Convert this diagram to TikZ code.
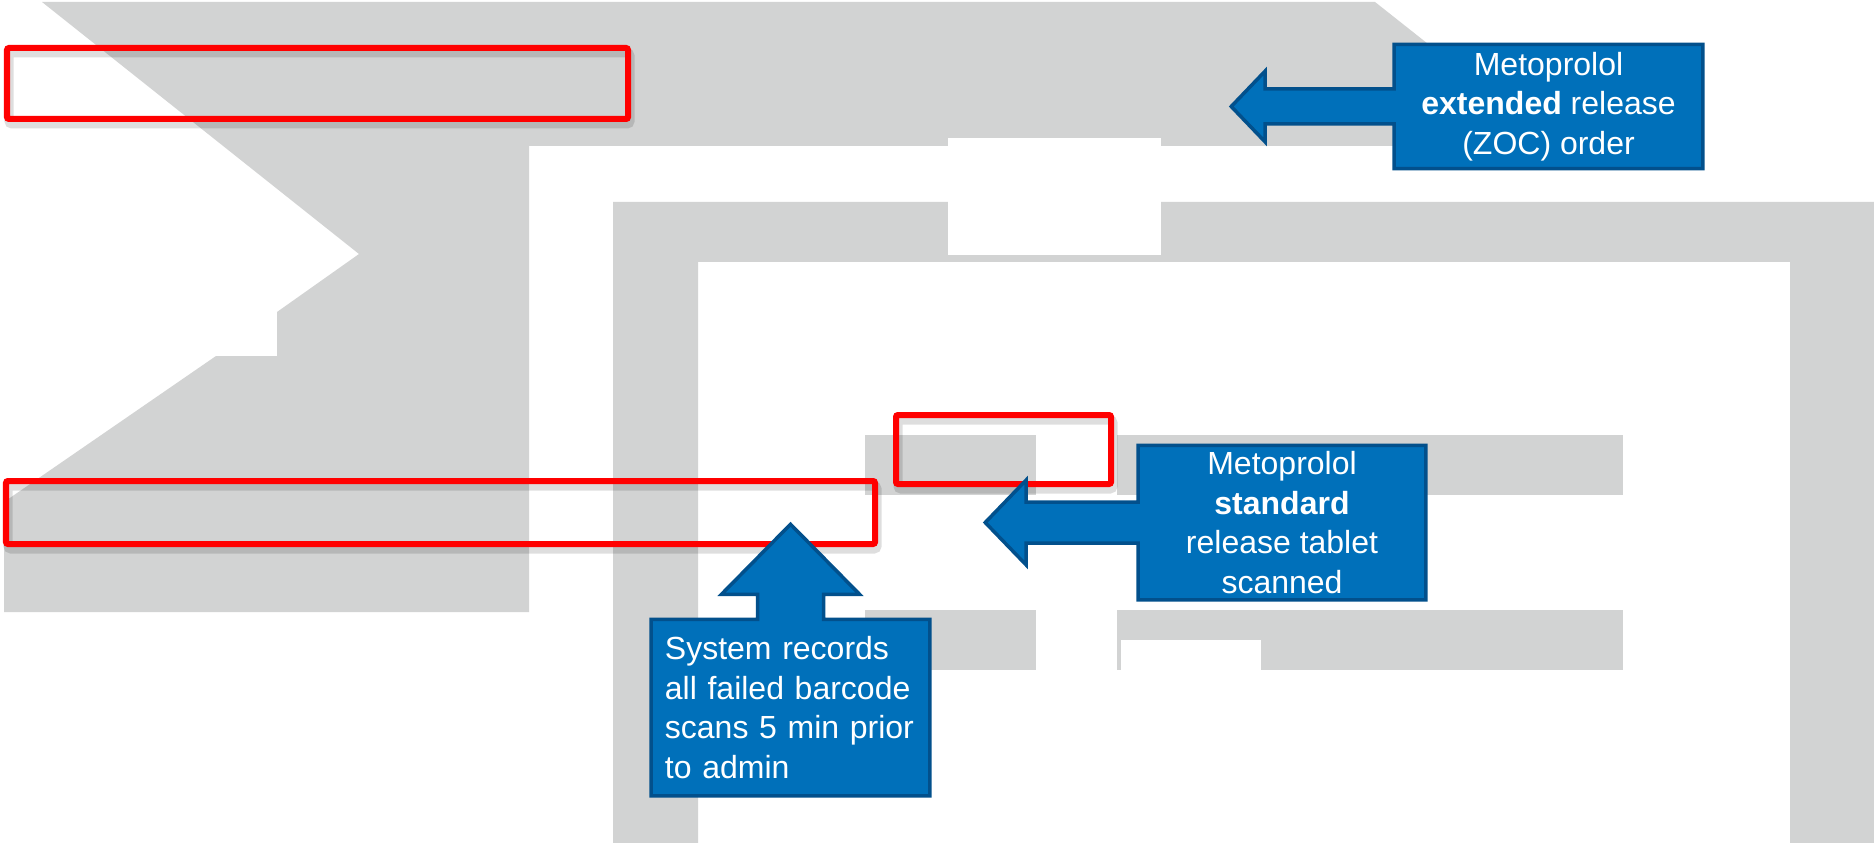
\documentclass[tikz,border=0pt]{standalone}
\usepackage{fontspec}
\setmainfont{Liberation Sans}
\usetikzlibrary{calc,backgrounds}
\definecolor{panelgray}{HTML}{D2D3D3}
\definecolor{callblue}{HTML}{0070BA}
\definecolor{callline}{HTML}{02508C}

\begin{document}
\begin{tikzpicture}[
            x=0.01cm, y=-0.01cm,
            panel/.style={fill=panelgray},
            redmark/.style={draw=red, line width=0.06cm, rounded corners=0.02cm},
            markshadow/.style={draw=black, opacity=0.13, line width=0.09cm, rounded corners=0.03cm},
            callbox/.style={inner sep=0pt, text=white, font=\fontsize{9.1pt}{11.2pt}\selectfont},
            callout/.style={fill=callblue, draw=callline, line width=0.035cm}
        ]
            \useasboundingbox (0,0) rectangle (1874,843);

            % call-out texts
            \node[callbox, minimum width=3.07cm, minimum height=1.23cm, align=center] (zoc) at (1548.5,106.5)
                {Metoprolol\\\textbf{extended} release\\(ZOC) order};
            \node[callbox, minimum width=2.86cm, minimum height=1.53cm, align=center] (std) at (1282,522.5)
                {Metoprolol\\\textbf{standard}\\release tablet\\scanned};
            \node[callbox, text width=2.51cm, inner xsep=0.13cm, minimum height=1.75cm, align=left] (sys) at (790.5,707.5)
                {System records\\all failed barcode\\scans 5 min prior\\to admin};

            \begin{scope}[on background layer]
                % grey screen panels
                \fill[panel] (42,2) -- (1375,2) -- (1557,146) -- (529,146) -- (529,612) -- (4,612) -- (4,502)
                    -- (216,356) -- (277,356) -- (277,312) -- (359,254) -- cycle;
                \fill[panel, even odd rule] (613,202) rectangle (1874,843) (698,262) rectangle (1790,843);
                \fill[white] (948,138) rectangle (1161,255);
                \fill[panel] (865,435) rectangle (1036,495);
                \fill[panel] (1117,435) rectangle (1623,495);
                \fill[panel] (865,610) rectangle (1036,670);
                \fill[panel] (1117,610) rectangle (1623,670);
                \fill[white] (1121,640) rectangle (1261,670);

                % red highlight boxes
                \foreach \xa/\ya/\xb/\yb in {7/48/628/119, 6/481/875/544, 896/415/1111/484} {
                    \draw[markshadow] (\xa+2,\ya+5) rectangle (\xb+2,\yb+5);
                    \draw[redmark] (\xa,\ya) rectangle (\xb,\yb);
                }

                % blue call-out arrows
                \filldraw[callout] (zoc.north west) -- (zoc.north east) -- (zoc.south east) -- (zoc.south west)
                    -- ($(zoc.west)+(0,17.5)$) -- ++(-129,0) -- ++(0,18) -- ($(zoc.west)+(-163,0)$)
                    -- ($(zoc.west)+(-129,-35.5)$) -- ++(0,18) -- ($(zoc.west)+(0,-17.5)$) -- cycle;
                \filldraw[callout] (std.north west) -- (std.north east) -- (std.south east) -- (std.south west)
                    -- ($(std.west)+(0,20.5)$) -- ++(-112,0) -- ++(0,22) -- ($(std.west)+(-153,0)$)
                    -- ($(std.west)+(-112,-42.5)$) -- ++(0,22) -- ($(std.west)+(0,-20.5)$) -- cycle;
                \filldraw[callout] (sys.south west) -- (sys.north west) -- ($(sys.north)+(-33,0)$) -- ++(0,-25)
                    -- ++(-36,0) -- ($(sys.north)+(0,-95)$) -- ($(sys.north)+(69,-25)$) -- ++(-36,0)
                    -- ($(sys.north)+(33,0)$) -- (sys.north east) -- (sys.south east) -- cycle;
            \end{scope}
        \end{tikzpicture}
\end{document}
